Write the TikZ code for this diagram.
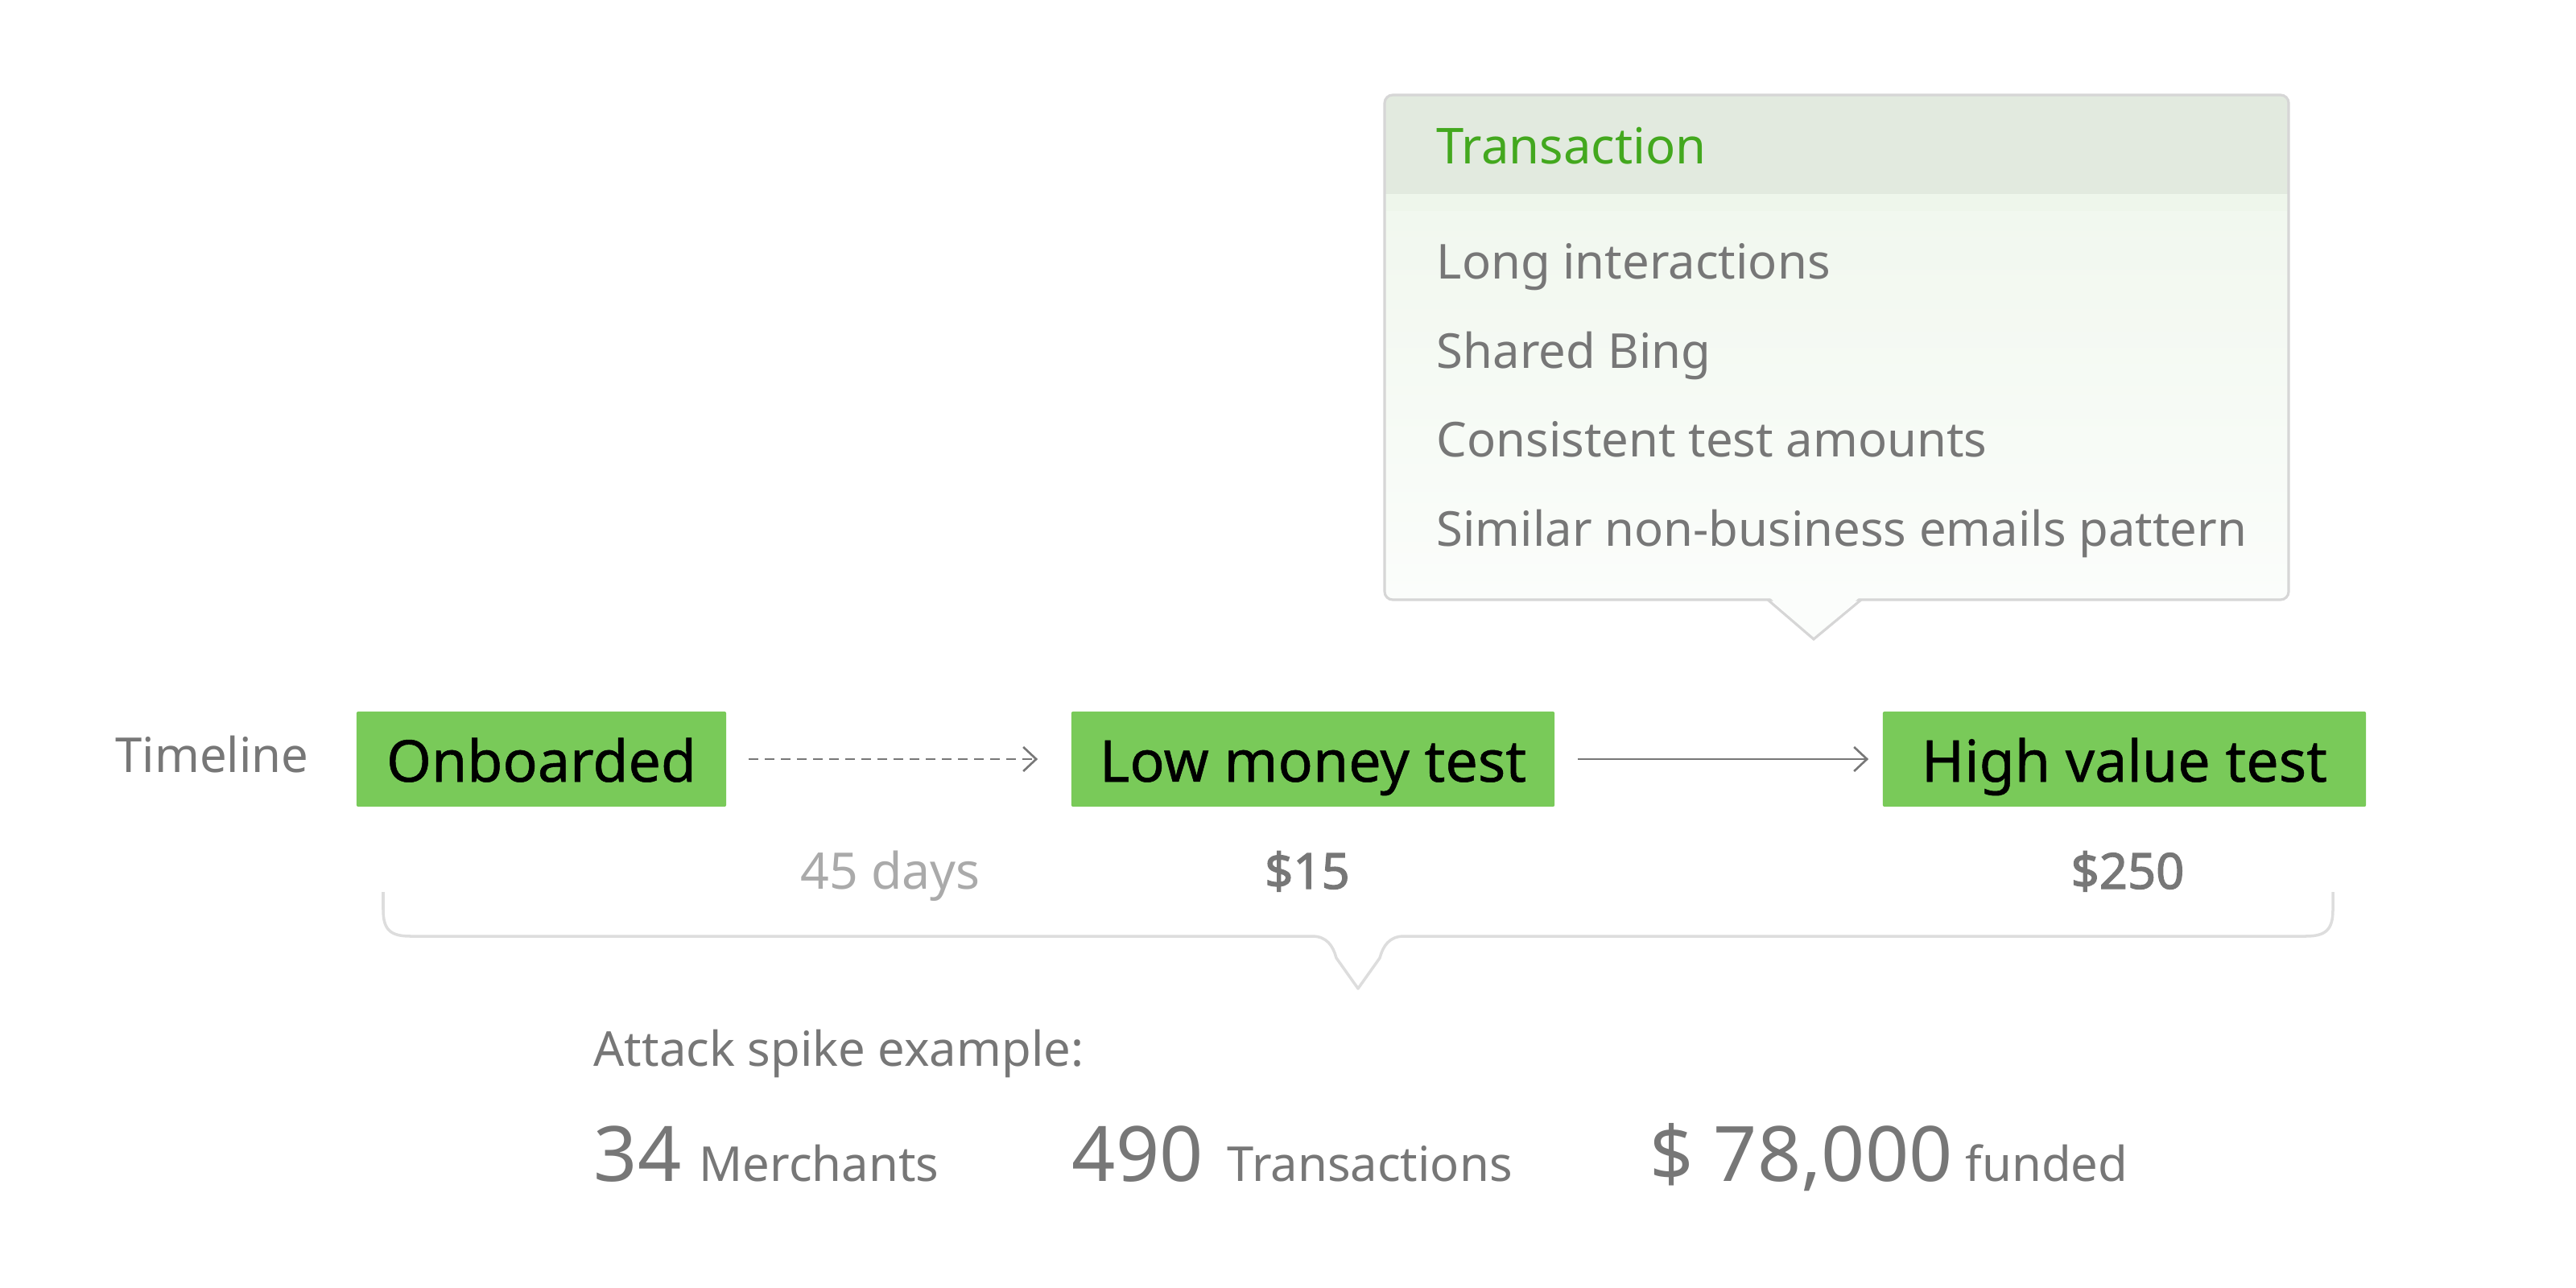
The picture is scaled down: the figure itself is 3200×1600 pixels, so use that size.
\documentclass[tikz,border=0pt]{standalone}
\usepackage{fontspec}
\setmainfont{Noto Sans}
\newfontfamily\medfont[FakeBold=0.7]{Noto Sans}
\newfontfamily\boldfont[FakeBold=2]{Noto Sans}
\usetikzlibrary{arrows.meta}
\definecolor{boxgreen}{HTML}{79CA59}
\definecolor{headgreen}{HTML}{43A81E}
\definecolor{headband}{HTML}{E2EADF}
\definecolor{bodytop}{HTML}{EEF6EB}
\definecolor{bodybot}{HTML}{FBFDFB}
\definecolor{bordergray}{HTML}{D6D6D6}
\definecolor{textgray}{HTML}{777777}
\definecolor{lightgray}{HTML}{AAAAAA}
\definecolor{linegray}{HTML}{777777}
\definecolor{bracegray}{HTML}{DDDDDD}
\tikzset{
  stepbox/.style={fill=boxgreen, rounded corners=0.2mm, minimum height=1.18cm, inner sep=0pt, text height=5.6mm, text depth=0mm, text=black, font=\medfont\fontsize{20.4}{24}\selectfont},
  listtext/.style={anchor=base west, inner sep=0pt, text=textgray, font=\fontsize{17}{20}\selectfont},
  labeltext/.style={anchor=base, inner sep=0pt, text=textgray, font=\fontsize{17.8}{20}\selectfont},
  pricetext/.style={anchor=base, inner sep=0pt, text=textgray, font=\boldfont\fontsize{17.5}{20}\selectfont},
  bignum/.style={anchor=base west, inner sep=0pt, text=textgray, font=\fontsize{27}{32}\selectfont},
  conn/.style={draw=linegray, line width=0.75pt, -{Straight Barb[length=1.6mm, width=3mm, line width=0.75pt]}}
}
\begin{document}
\begin{tikzpicture}[x=0.01cm, y=-0.01cm]
\useasboundingbox (0,0) rectangle (3200,1600);
% callout
\shade[top color=bodytop, bottom color=bodybot, rounded corners=1mm] (1720,118) rectangle (2843,745);
\fill[headband, rounded corners=1mm] (1720,118) rectangle (2843,260);
\fill[bodytop] (1721,241) rectangle (2842,262);
\draw[bordergray, line width=0.9pt, rounded corners=1mm] (1720,118) rectangle (2843,745);
\fill[bodybot] (2196,740) -- (2253,794) -- (2312,740) -- cycle;
\draw[bordergray, line width=0.9pt] (2196,745) coordinate (pl) -- (2253,794) coordinate (ptip) -- (2312,745) coordinate (pr);
\node[listtext, text=headgreen, font=\fontsize{17.5}{20}\selectfont] (hdr) at (1784,204) {Transaction};
\node[listtext] (l1) at (1784,347) {Long interactions};
\node[listtext] (l2) at (1784,457) {Shared Bing};
\node[listtext] (l3) at (1784,567) {Consistent test amounts};
\node[listtext] (l4) at (1784,678) {Similar non-business emails pattern};
% timeline
\node[listtext] (tl) at (143,959) {Timeline};
\node[stepbox, minimum width=4.59cm] (onb) at (672.5,943) {Onboarded};
\node[stepbox, minimum width=6.00cm] (low) at (1631,943) {Low money test};
\node[stepbox, minimum width=6.00cm] (high) at (2639,943) {High value test};
\draw[conn, dashed, dash pattern=on 1.2mm off 0.8mm, shorten <=2.7mm, shorten >=4.1mm] (onb) -- (low);
\draw[conn, shorten <=2.8mm, shorten >=1.7mm] (low) -- (high);
\node[labeltext, text=lightgray] (days) at (1106,1104) {45 days};
\node[pricetext] (p15) at (1624,1104) {\$15};
\node[pricetext] (p250) at (2643,1104) {\$250};
% brace
\draw[bracegray, line width=1pt, line join=round] (476,1108) -- (476,1130) .. controls (476,1155) and (485,1163) .. (510,1163) -- (1630,1163) .. controls (1648,1163) and (1656,1175) .. (1660,1190) -- (1687,1228) coordinate (btip) -- (1714,1190) .. controls (1718,1175) and (1726,1163) .. (1744,1163) -- (2864,1163) .. controls (2889,1163) and (2898,1155) .. (2898,1130) -- (2898,1108);
% summary
\node[listtext] (att) at (737,1324) {Attack spike example:};
\node[bignum] (n1) at (737,1467) {34};
\node[listtext] (t1) at (868,1467) {Merchants};
\node[bignum] (n2) at (1331,1467) {490};
\node[listtext] (t2) at (1524,1467) {Transactions};
\node[bignum] (n3) at (2049,1467) {\$ 78,000};
\node[listtext] (t3) at (2441,1467) {funded};
\end{tikzpicture}
\end{document}
